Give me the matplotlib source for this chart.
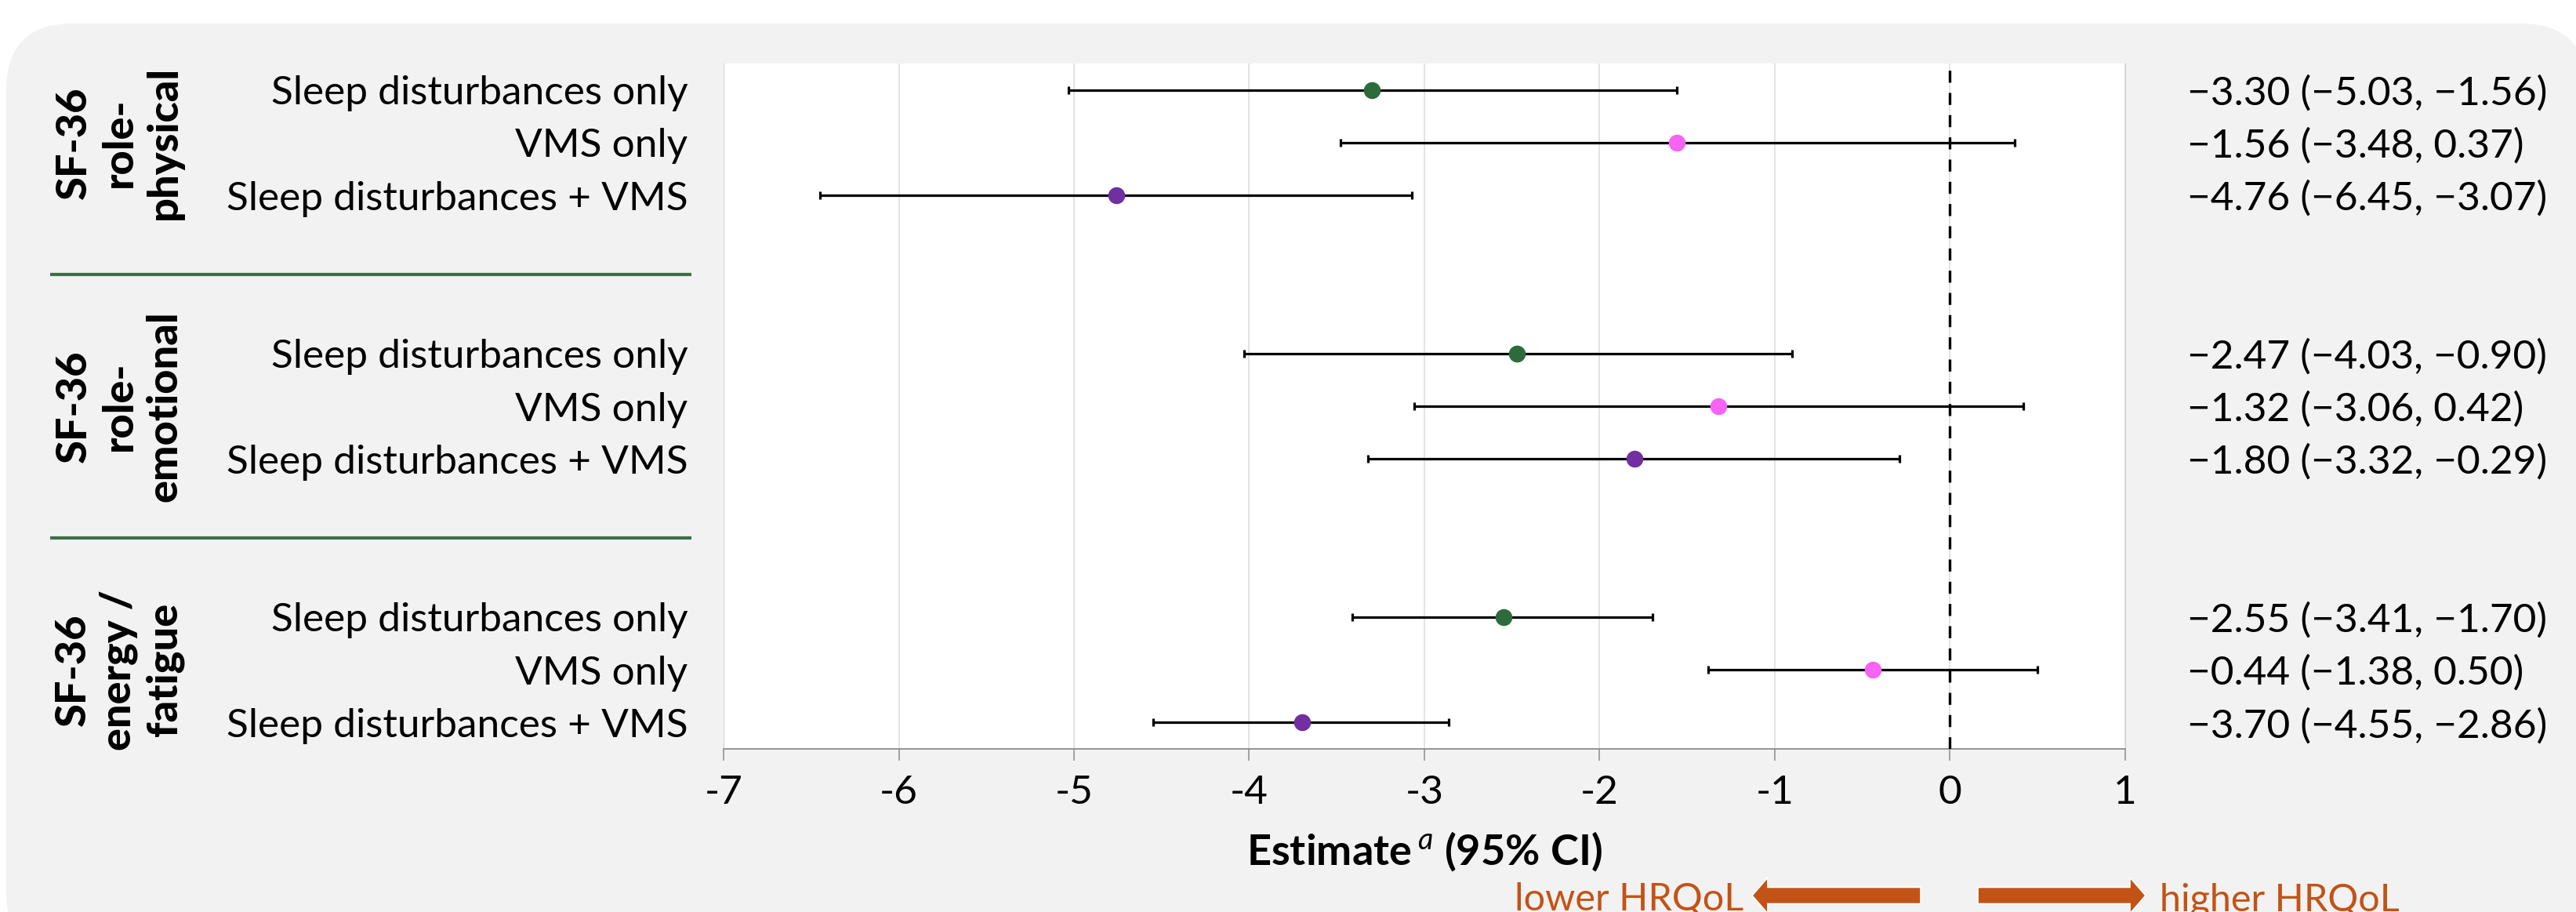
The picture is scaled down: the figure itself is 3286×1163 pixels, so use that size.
import matplotlib
matplotlib.use("Agg")
import matplotlib.pyplot as plt
from matplotlib.patches import FancyBboxPatch, FancyArrow
from matplotlib.transforms import IdentityTransform, blended_transform_factory

# ---------------- data ----------------
outcomes = ["SF-36\nrole-\nphysical", "SF-36\nrole-\nemotional", "SF-36\nenergy /\nfatigue"]
groups = ["Sleep disturbances only", "VMS only", "Sleep disturbances + VMS"]
estimates = [[-3.30, -1.56, -4.76],
             [-2.47, -1.32, -1.80],
             [-2.55, -0.44, -3.70]]
lower = [[-5.03, -3.48, -6.45],
         [-4.03, -3.06, -3.32],
         [-3.41, -1.38, -4.55]]
upper = [[-1.56, 0.37, -3.07],
         [-0.90, 0.42, -0.29],
         [-1.70, 0.50, -2.86]]
group_colors = ["#2e6b3c", "#f564f5", "#7030a0"]
xticks = [-7, -6, -5, -4, -3, -2, -1, 0, 1]
xlabel = r"Estimate$\,^{\mathit{a}}$ (95% CI)"
arrow_labels = ["lower HRQoL", "higher HRQoL"]

# ---------------- style ----------------
FAM = ["Lato", "DejaVu Sans"]
plt.rcParams["font.family"] = FAM
plt.rcParams["axes.unicode_minus"] = False
plt.rcParams["mathtext.fontset"] = "custom"
plt.rcParams["mathtext.rm"] = "Lato:bold"
plt.rcParams["mathtext.it"] = "Lato:italic"
plt.rcParams["mathtext.bf"] = "Lato:bold"

W, H = 3287, 1163
ORANGE = "#c25316"
PANEL = "#f2f2f2"
FS = 37

fig = plt.figure(figsize=(W / 100, H / 100), dpi=100, facecolor="white")

# gray rounded panel (pixel coords, origin bottom-left)
panel = FancyBboxPatch((8, -60), 3300 - 8, (H - 30) + 60,
                       boxstyle="round,pad=0,rounding_size=85",
                       transform=IdentityTransform(), facecolor=PANEL,
                       edgecolor="none", zorder=0)
fig.add_artist(panel)

ax = fig.add_axes([923 / W, (H - 955) / H, (2711 - 923) / W, (955 - 81) / H])
ax.set_facecolor("white")
ax.set_zorder(1)

ypos = []
for gi in range(len(outcomes)):
    for j in range(len(groups)):
        y = gi * 5 + j
        ypos.append(y)
        e, lo, hi = estimates[gi][j], lower[gi][j], upper[gi][j]
        ax.errorbar([e], [y], xerr=[[e - lo], [hi - e]], fmt="o",
                    color=group_colors[j], mec=group_colors[j], ms=14.5,
                    ecolor="black", elinewidth=2.3, capsize=3.3, capthick=2.3,
                    zorder=4)

ax.axvline(0, color="black", lw=2.4, ls=(0, (4.6, 3.9)), zorder=3)

ax.set_xlim(xticks[0], xticks[-1])
ax.set_ylim(12.5, -0.5)
ax.set_xticks(xticks)
ax.set_xticklabels([str(t) for t in xticks])
ax.set_yticks(ypos)
ax.set_yticklabels(groups * len(outcomes))
ax.set_axisbelow(True)
ax.grid(axis="x", color="#dedede", lw=1.2)
ax.grid(axis="y", visible=False)

ax.tick_params(axis="y", length=0, pad=33, labelsize=FS)
ax.tick_params(axis="x", length=10.8, width=1.1, color="#8c8c8c", pad=13,
               labelsize=FS)
ax.spines["top"].set_visible(False)
ax.spines["left"].set_color("#dcdcdc")
ax.spines["left"].set_linewidth(1.0)
ax.spines["right"].set_color("#d4d4d4")
ax.spines["right"].set_linewidth(1.0)
ax.spines["bottom"].set_color("#8c8c8c")
ax.spines["bottom"].set_linewidth(1.3)

# value column on the right
bt = blended_transform_factory(fig.transFigure, ax.transData)
k = 0
for gi in range(len(outcomes)):
    for j in range(len(groups)):
        e, lo, hi = estimates[gi][j], lower[gi][j], upper[gi][j]
        s = f"{e:.2f} ({lo:.2f}, {hi:.2f})".replace("-", "\u2212")
        ax.text(2790 / W, ypos[k], s, transform=bt, ha="left",
                va="center_baseline", fontsize=FS, clip_on=False)
        k += 1

# group labels and separators
for gi, name in enumerate(outcomes):
    ax.text(152 / W, gi * 5 + 1, name, transform=bt, rotation=90,
            ha="center", va="center", multialignment="center",
            fontsize=39, fontweight="black", linespacing=1.22, clip_on=False)
for gi in range(len(outcomes) - 1):
    ysep = gi * 5 + 3.5
    ax.plot([64 / W, 882 / W], [ysep, ysep], transform=bt, color="#3d6e48",
            lw=3, clip_on=False, solid_capstyle="butt")

# x label
fig.text(1817, H - 1103, xlabel, transform=IdentityTransform(), ha="center",
         va="baseline", fontsize=39, fontweight="bold")

# direction arrows
ay = H - 1142
for x0, x1 in [(2450, 2235), (2523, 2737)]:
    arr = FancyArrow(x0, ay, x1 - x0, 0, width=21, head_width=46,
                     head_length=20, length_includes_head=True,
                     transform=IdentityTransform(), facecolor=ORANGE,
                     edgecolor="white", lw=1.2, zorder=5)
    fig.add_artist(arr)
fig.text(2224, H - 1161, arrow_labels[0], transform=IdentityTransform(),
         ha="right", va="baseline", fontsize=35, color=ORANGE)
fig.text(2755, H - 1161, arrow_labels[1], transform=IdentityTransform(),
         ha="left", va="baseline", fontsize=35, color=ORANGE)

fig.savefig("out.png", dpi=100, facecolor="white")
